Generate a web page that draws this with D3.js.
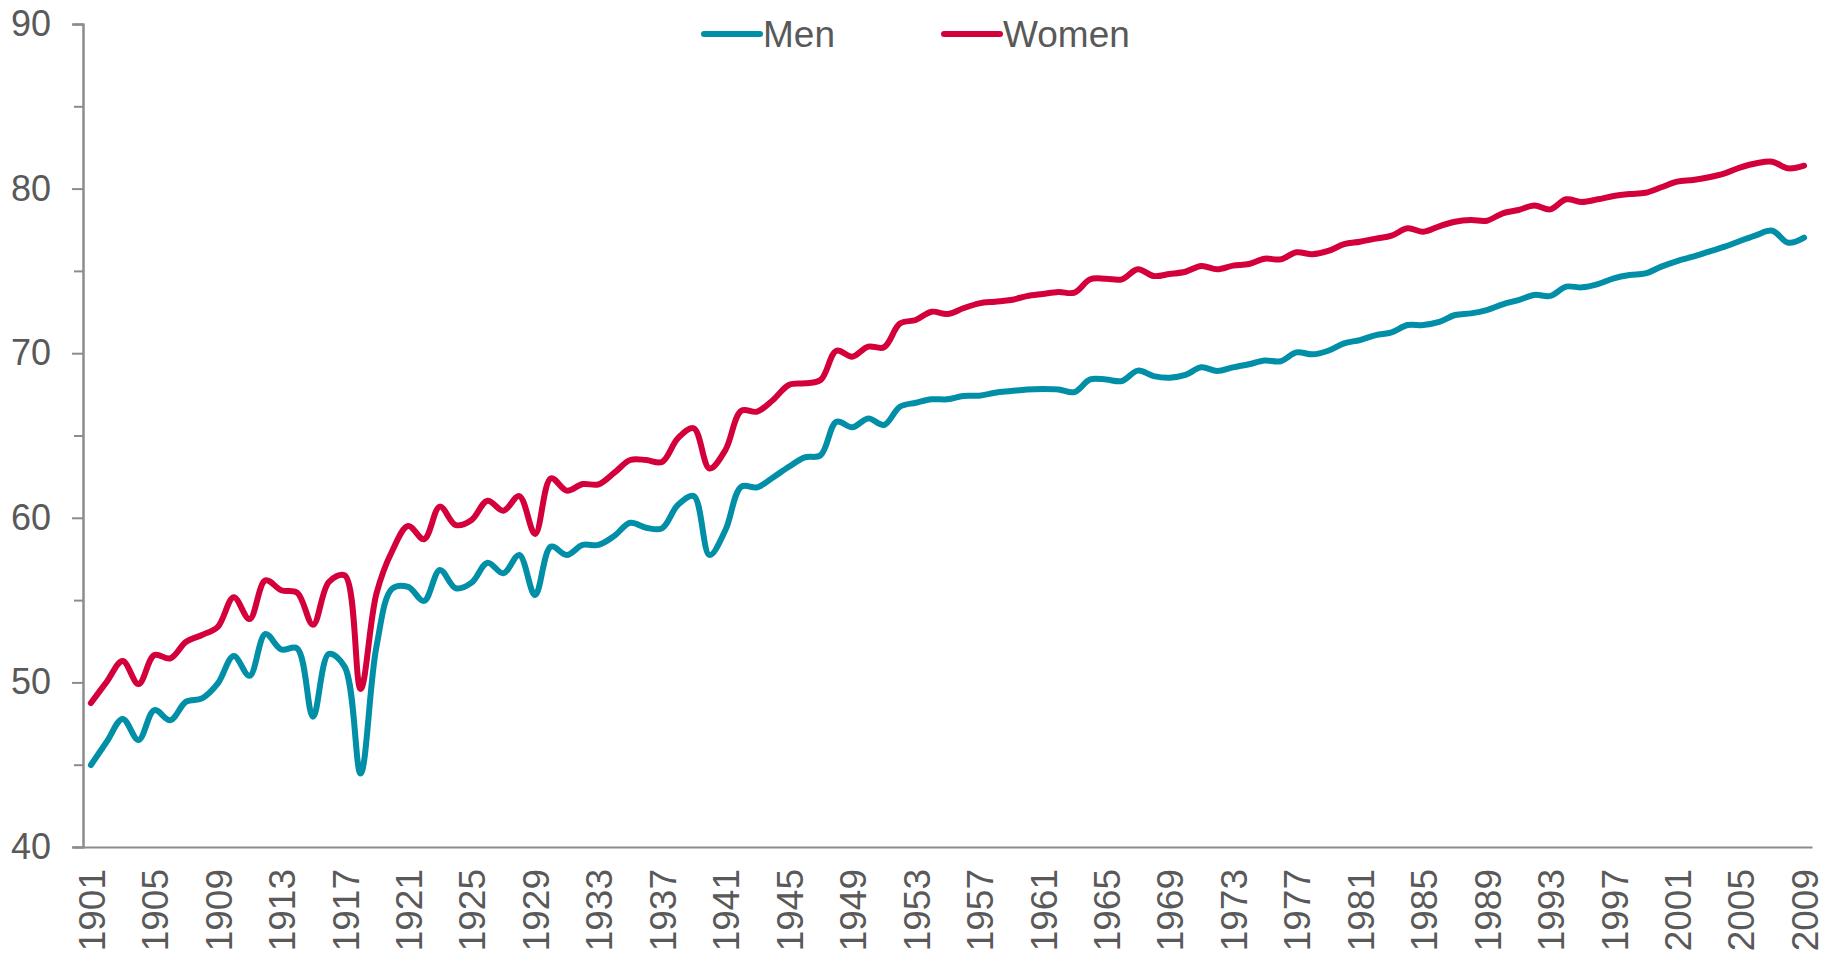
<!DOCTYPE html>
<html>
<head>
<meta charset="utf-8">
<script src="https://cdnjs.cloudflare.com/ajax/libs/d3/7.8.5/d3.min.js"></script>
<style>
    html, body { margin: 0; padding: 0; background: #fff; }
    svg { display: block; font-family: "Liberation Sans", Arial, sans-serif; }
</style>
</head>
<body>
<script>
// years on the category axis
var years = d3.range(1901, 2010);

// every fourth year gets a label
var xTickLabels = [1901, 1905, 1909, 1913, 1917, 1921, 1925, 1929, 1933, 1937, 1941,
    1945, 1949, 1953, 1957, 1961, 1965, 1969, 1973, 1977, 1981, 1985, 1989, 1993,
    1997, 2001, 2005, 2009];

var yTickLabels = [40, 50, 60, 70, 80, 90];
var yMinorTicks = [45, 55, 65, 75, 85];

// life expectancy, men
var men = [
    44.98, 46.4, 47.78, 46.5, 48.32, 47.7, 48.83, 49.03, 49.94, 51.6,
    50.4, 52.94, 52.0, 52.07, 47.92, 51.73, 50.95, 44.47, 52.17, 55.7,
    55.8, 54.95, 56.83, 55.72, 56.06, 57.27, 56.63, 57.74, 55.31, 58.25,
    57.74, 58.35, 58.35, 58.9, 59.7, 59.4, 59.36, 60.78, 61.32, 57.74,
    59.26, 61.89, 61.85, 62.45, 63.1, 63.67, 63.8, 65.84, 65.5, 66.04,
    65.64, 66.75, 66.99, 67.2, 67.2, 67.4, 67.42, 67.6, 67.7, 67.8,
    67.83, 67.8, 67.64, 68.41, 68.4, 68.31, 68.94, 68.61, 68.51, 68.68,
    69.14, 68.92, 69.14, 69.33, 69.55, 69.51, 70.05, 69.93, 70.15, 70.6,
    70.8, 71.1, 71.27, 71.71, 71.71, 71.9, 72.32, 72.42, 72.62, 72.97,
    73.23, 73.54, 73.48, 74.04, 74.0, 74.2, 74.55, 74.75, 74.85, 75.26,
    75.6, 75.86, 76.17, 76.47, 76.83, 77.18, 77.44, 76.71, 77.02
];

// life expectancy, women
var women = [
    48.75, 50.04, 51.3, 49.9, 51.66, 51.46, 52.47, 52.88, 53.38, 55.17,
    53.85, 56.2, 55.6, 55.45, 53.5, 56.1, 56.5, 49.6, 55.4, 58.0,
    59.5, 58.7, 60.68, 59.56, 59.87, 61.04, 60.43, 61.32, 59.02, 62.4,
    61.65, 62.05, 62.03, 62.74, 63.51, 63.51, 63.39, 64.83, 65.44, 63.0,
    64.12, 66.5, 66.45, 67.16, 68.07, 68.17, 68.37, 70.15, 69.79, 70.4,
    70.36, 71.8, 72.02, 72.52, 72.38, 72.73, 73.03, 73.13, 73.23, 73.47,
    73.6, 73.72, 73.68, 74.49, 74.52, 74.49, 75.1, 74.69, 74.81, 74.95,
    75.3, 75.1, 75.32, 75.42, 75.74, 75.7, 76.13, 76.01, 76.21, 76.62,
    76.77, 76.96, 77.14, 77.59, 77.38, 77.71, 77.99, 78.09, 78.05, 78.5,
    78.7, 78.98, 78.74, 79.35, 79.19, 79.35, 79.55, 79.67, 79.75, 80.08,
    80.42, 80.52, 80.69, 80.93, 81.29, 81.54, 81.63, 81.23, 81.39
];

var seriesNames = ['Men', 'Women'];
var seriesColors = ['#008fa7', '#d4003c'];

window.CHART = {
    init: function () {
        var self = this;

        self.width = 1833;
        self.height = 955;

        // plot area
        self.left = 83;
        self.right = 1812;
        self.top = 24;
        self.bottom = 847;

        self.svg = d3.select('body').append('svg')
            .attr('width', self.width)
            .attr('height', self.height);

        self.x = d3.scalePoint().domain(years).range([self.left, self.right]).padding(0.5);
        self.y = d3.scaleLinear().domain([40, 90]).range([self.bottom, self.top]);

        self.drawAxes();
        self.drawLines();
        self.drawLegend();
    },
    drawAxes: function () {
        var self = this,
            yAxis, yMinor, xAxis;

        // y axis with labelled ticks
        yAxis = self.svg.append('g')
            .attr('transform', 'translate(' + self.left + ',0)')
            .call(d3.axisLeft(self.y).tickValues(yTickLabels).tickSize(11).tickPadding(21));

        yMinor = self.svg.append('g')
            .attr('transform', 'translate(' + self.left + ',0)')
            .call(d3.axisLeft(self.y).tickValues(yMinorTicks).tickSize(9).tickFormat(''));

        [yAxis, yMinor].forEach(function (g) {
            g.select('.domain').attr('stroke', '#8c8c8c').attr('stroke-width', 2);
            g.selectAll('.tick line').attr('stroke', '#8c8c8c').attr('stroke-width', 2);
        });

        yAxis.selectAll('.tick text')
            .attr('fill', '#595959')
            .attr('font-size', 36)
            .attr('font-family', '"Liberation Sans", Arial, sans-serif');

        // x axis, no ticks, rotated year labels
        xAxis = self.svg.append('g')
            .attr('transform', 'translate(0,' + self.bottom + ')')
            .call(d3.axisBottom(self.x).tickValues(xTickLabels).tickSize(0).tickSizeOuter(0));

        xAxis.select('.domain').attr('stroke', '#8c8c8c').attr('stroke-width', 2);

        xAxis.selectAll('.tick text')
            .attr('fill', '#595959')
            .attr('font-size', 37)
            .attr('font-family', '"Liberation Sans", Arial, sans-serif')
            .attr('text-anchor', 'end')
            .attr('transform', 'rotate(-90)')
            .attr('x', -22)
            .attr('y', 0)
            .attr('dy', '0.36em');
    },
    drawLines: function () {
        var self = this,
            line;

        line = d3.line()
            .x(function (d, i) { return self.x(years[i]); })
            .y(function (d) { return self.y(d); })
            .curve(d3.curveCatmullRom.alpha(0.5));

        [men, women].forEach(function (values, i) {
            self.svg.append('path')
                .datum(values)
                .attr('fill', 'none')
                .attr('stroke', seriesColors[i])
                .attr('stroke-width', 6)
                .attr('stroke-linecap', 'round')
                .attr('stroke-linejoin', 'round')
                .attr('d', line);
        });
    },
    drawLegend: function () {
        var self = this,
            legendX = [704, 944],
            items;

        items = self.svg.append('g').selectAll('g').data(seriesNames).enter().append('g')
            .attr('transform', function (d, i) { return 'translate(' + legendX[i] + ',34)'; });

        items.append('line')
            .attr('x1', 0).attr('x2', 56)
            .attr('y1', 0).attr('y2', 0)
            .attr('stroke', function (d, i) { return seriesColors[i]; })
            .attr('stroke-width', 6)
            .attr('stroke-linecap', 'round');

        items.append('text')
            .attr('x', 59)
            .attr('y', 0)
            .attr('dy', '0.36em')
            .attr('fill', '#595959')
            .attr('font-size', 37)
            .text(function (d) { return d; });
    }
};

CHART.init();
</script>
</body>
</html>
